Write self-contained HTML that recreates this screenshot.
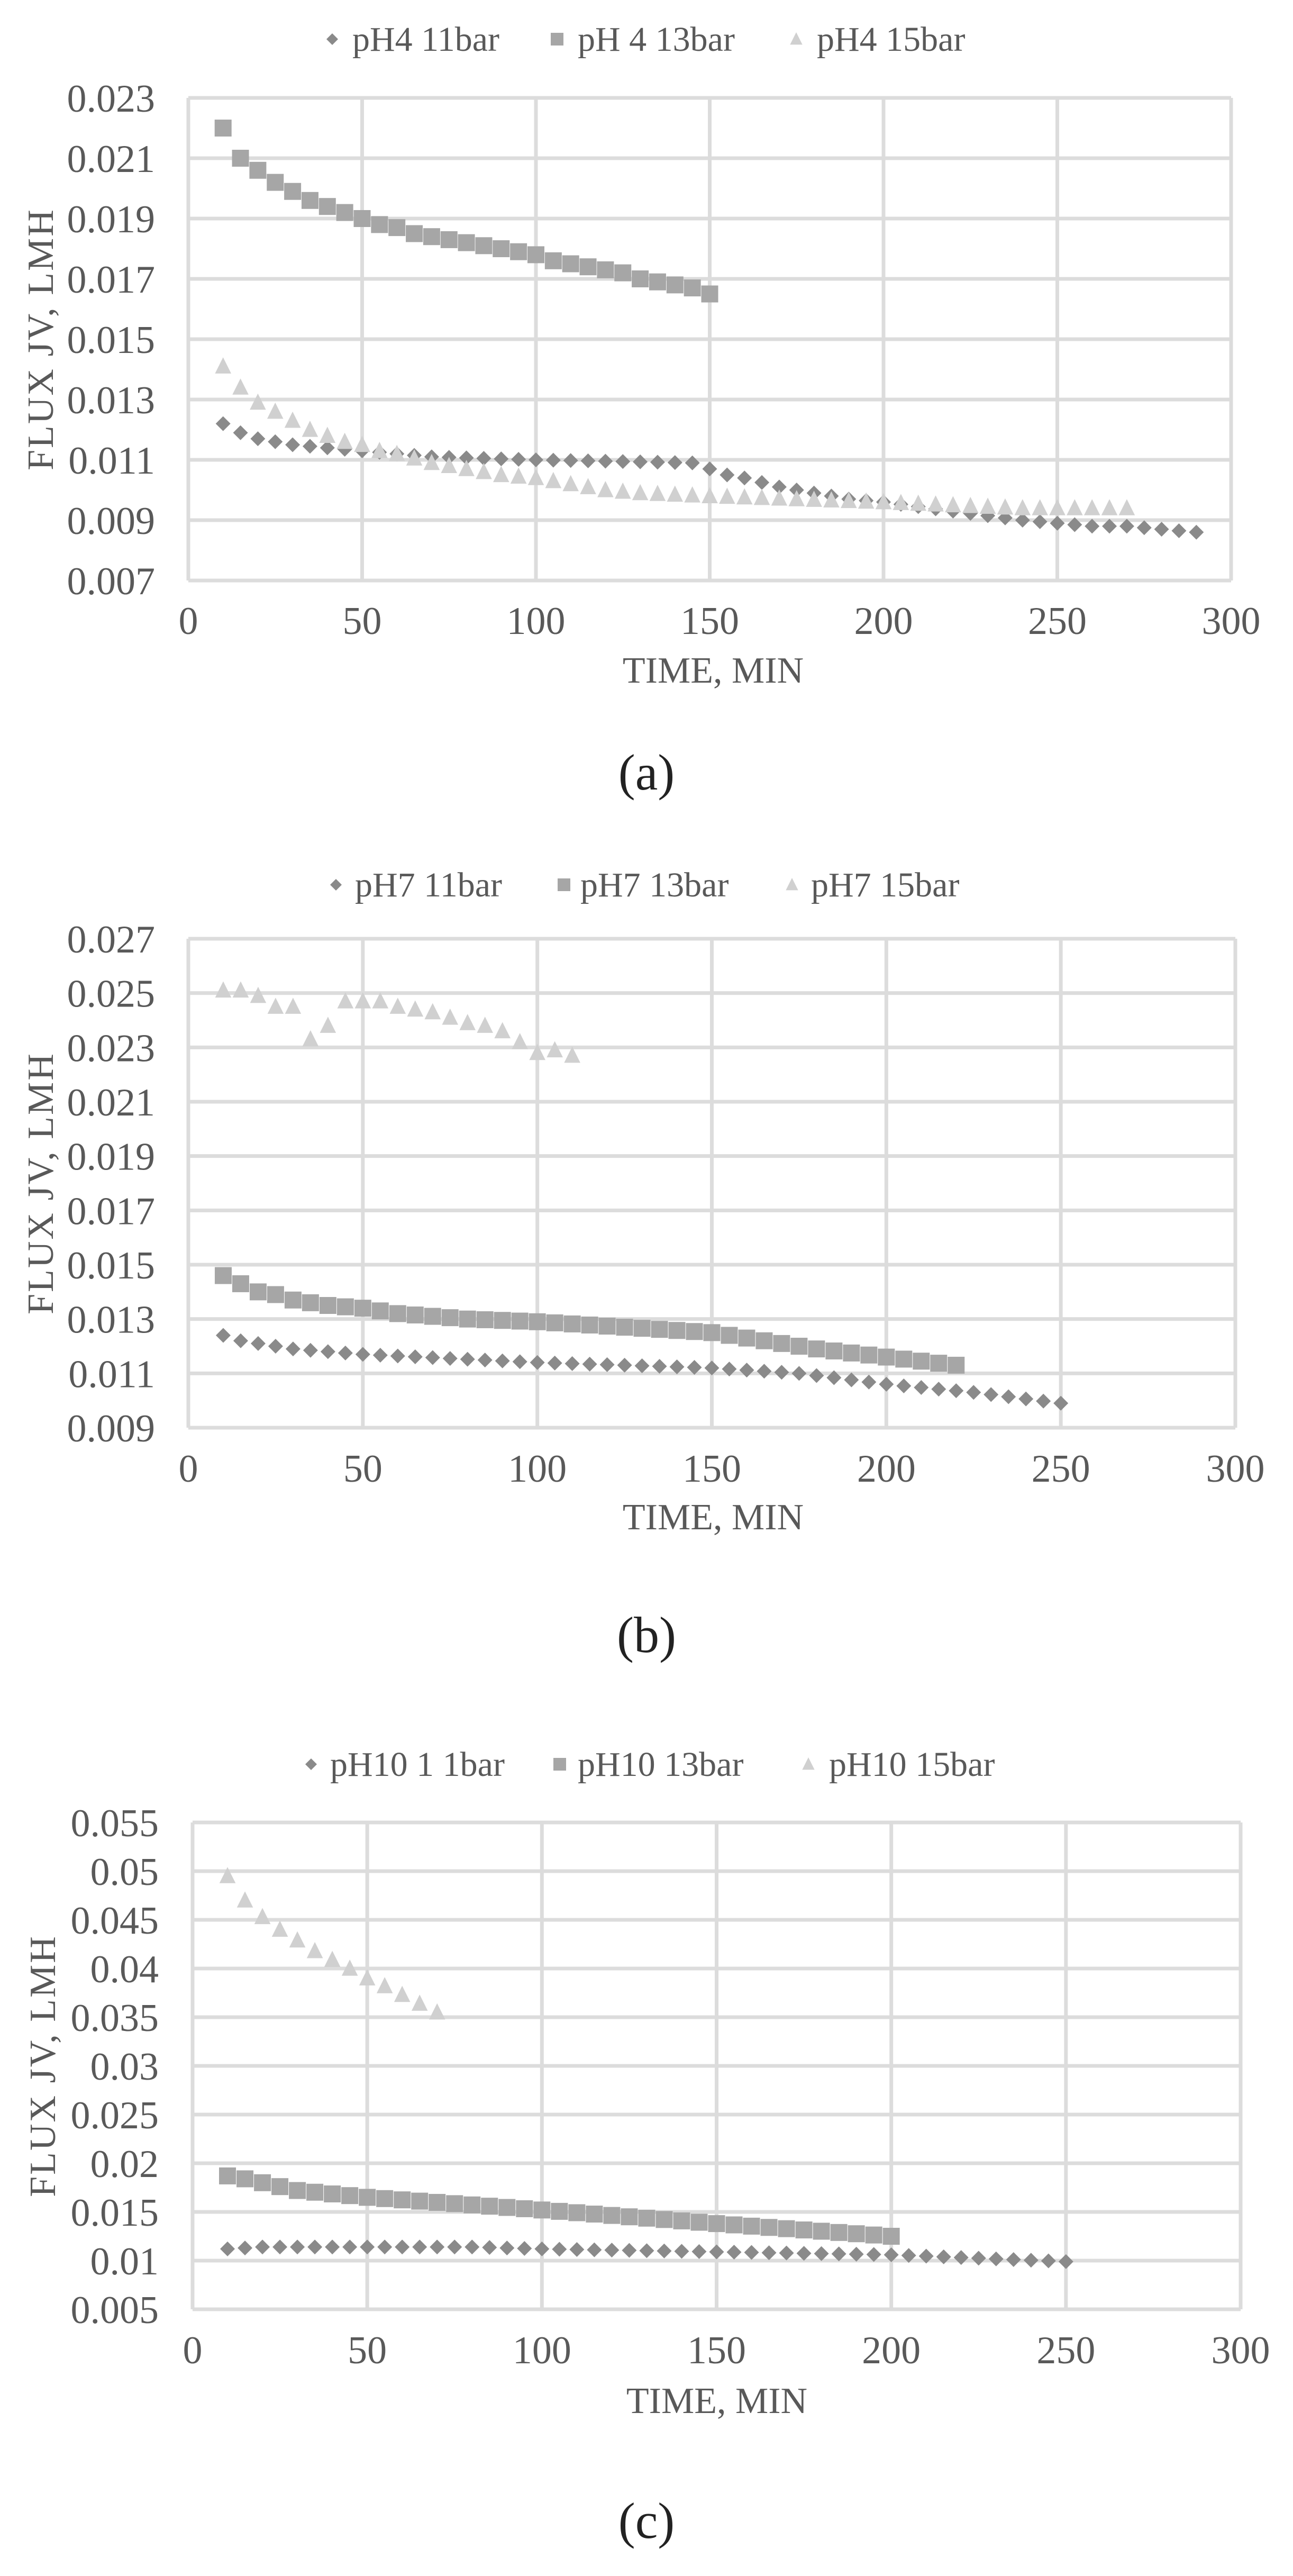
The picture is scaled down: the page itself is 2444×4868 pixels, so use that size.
<!DOCTYPE html>
<html><head><meta charset="utf-8"><style>
html,body{margin:0;padding:0;background:#fff;}
svg{display:block;}
text{font-family:"Liberation Serif",serif;fill:#595959;}
</style></head><body>
<svg id="s" width="2444" height="4868" xmlns="http://www.w3.org/2000/svg">
<rect width="2444" height="4868" fill="#fff"/>
<g id="g"></g>
<!-- chart a texts -->
<text x="666" y="96" font-size="66">pH4 11bar</text>
<text x="1092" y="96" font-size="66">pH 4 13bar</text>
<text x="1544" y="96" font-size="66">pH4 15bar</text>
<text x="1348" y="1290" font-size="70" text-anchor="middle">TIME, MIN</text>
<text transform="translate(100,641) rotate(-90)" font-size="70" text-anchor="middle" letter-spacing="3">FLUX JV, LMH</text>
<text x="1222" y="1492" font-size="96" text-anchor="middle" style="fill:#222">(a)</text>
<!-- chart b texts -->
<text x="671" y="1694" font-size="66">pH7 11bar</text>
<text x="1097" y="1694" font-size="66">pH7 13bar</text>
<text x="1533" y="1694" font-size="66">pH7 15bar</text>
<text x="1348" y="2890" font-size="70" text-anchor="middle">TIME, MIN</text>
<text transform="translate(100,2236) rotate(-90)" font-size="70" text-anchor="middle" letter-spacing="3">FLUX JV, LMH</text>
<text x="1222" y="3122" font-size="96" text-anchor="middle" style="fill:#222">(b)</text>
<!-- chart c texts -->
<text x="624" y="3356" font-size="66">pH10 1 1bar</text>
<text x="1092" y="3356" font-size="66">pH10 13bar</text>
<text x="1567" y="3356" font-size="66">pH10 15bar</text>
<text x="1355" y="4560" font-size="70" text-anchor="middle">TIME, MIN</text>
<text transform="translate(104,3904) rotate(-90)" font-size="70" text-anchor="middle" letter-spacing="3">FLUX JV, LMH</text>
<text x="1222" y="4796" font-size="96" text-anchor="middle" style="fill:#222">(c)</text>
</svg>
<script>
var NS="http://www.w3.org/2000/svg",G=document.getElementById('g');
function el(t,a,txt){var e=document.createElementNS(NS,t);for(var k in a)e.setAttribute(k,a[k]);if(txt!=null)e.textContent=txt;G.appendChild(e);return e;}
var C1="#8a8a8a",C2="#a6a6a6",C3="#d0d0d0";
function diamond(x,y,r,c){el('polygon',{points:(x)+','+(y-r)+' '+(x+r)+','+y+' '+x+','+(y+r)+' '+(x-r)+','+y,fill:c});}
function square(x,y,r,c){el('rect',{x:x-r,y:y-r,width:2*r,height:2*r,fill:c});}
function tri(x,y,r,c){el('polygon',{points:x+','+(y-r)+' '+(x+r*0.9)+','+(y+r*0.8)+' '+(x-r*0.9)+','+(y+r*0.8),fill:c});}
function interp(kp,x){for(var i=0;i<kp.length-1;i++){if(x>=kp[i][0]&&x<=kp[i+1][0]){var t=(x-kp[i][0])/(kp[i+1][0]-kp[i][0]);return kp[i][1]+t*(kp[i+1][1]-kp[i][1]);}}return kp[kp.length-1][1];}
function chart(o){
  var L=o.L,R=o.R,T=o.T,B=o.B;
  function X(v){return L+(v/300)*(R-L);} function Y(v){return B-(v-o.ymin)/(o.ymax-o.ymin)*(B-T);}
  var n=Math.round((o.ymax-o.ymin)/o.step);
  for(var i=0;i<=n;i++){var v=o.ymin+i*o.step,y=Y(v);
    el('line',{x1:L,x2:R,y1:y,y2:y,stroke:"#dcdcdc","stroke-width":7});
    el('text',{x:o.lx,y:y+26,"font-size":74,"text-anchor":"end"},o.fmt(v));}
  for(var m=0;m<=300;m+=50){var x=X(m);el('line',{x1:x,x2:x,y1:T,y2:B,stroke:"#dcdcdc","stroke-width":7});
    el('text',{x:x,y:o.ty,"font-size":74,"text-anchor":"middle"},String(m));}
  o.series.forEach(function(s){for(var t=s.a;t<=s.b+0.01;t+=5){var v=s.pts?s.pts[(t-s.a)/5]:interp(s.kp,t);s.f(X(t),Y(v),s.r,s.c);}});
  diamond(o.lg[0],o.ly,11,C1);square(o.lg[1],o.ly,12,C2);tri(o.lg[2],o.ly,13,C3);
}
function f3(v){return v.toFixed(3);}
function fc(v){var s=v.toFixed(3);if(s[4]==='0')s=s.slice(0,4);return s;}
chart({L:356,R:2327,T:185,B:1097,ymin:0.007,ymax:0.023,step:0.002,lx:293,ty:1198,fmt:f3,ly:74,lg:[628,1053,1505],
series:[
{a:10,b:290,f:diamond,r:14,c:C1,kp:[[10,.0122],[15,.0119],[20,.0117],[25,.0116],[30,.0115],[40,.0114],[50,.0113],[60,.0112],[70,.0111],[100,.0110],[145,.0109],[150,.0107],[155,.0105],[160,.0104],[170,.0101],[180,.0099],[190,.0097],[200,.0096],[220,.0093],[240,.0090],[260,.0088],[270,.0088],[290,.0086]]},
{a:10,b:270,f:tri,r:17,c:C3,kp:[[10,.0141],[15,.0134],[20,.0129],[25,.0126],[30,.0123],[35,.0120],[40,.0118],[45,.0116],[50,.0115],[55,.0113],[60,.0112],[70,.0109],[80,.0107],[90,.0105],[100,.0104],[110,.0102],[120,.0100],[130,.0099],[150,.0098],[200,.0096],[240,.0094],[270,.0094]]},
{a:10,b:150,f:square,r:16,c:C2,pts:[.022,.0210,.0206,.0202,.0199,.0196,.0194,.0192,.0190,.0188,.0187,.0185,.0184,.0183,.0182,.0181,.0180,.0179,.0178,.0176,.0175,.0174,.0173,.0172,.0170,.0169,.0168,.0167,.0165]}
]});
chart({L:356,R:2335,T:1774,B:2698,ymin:0.009,ymax:0.027,step:0.002,lx:293,ty:2800,fmt:f3,ly:1672,lg:[635,1066,1497],
series:[
{a:10,b:250,f:diamond,r:14,c:C1,kp:[[10,.0124],[15,.0122],[20,.0121],[25,.0120],[30,.0119],[50,.0117],[100,.0114],[150,.0112],[175,.0110],[200,.0106],[225,.0103],[250,.0099]]},
{a:10,b:220,f:square,r:16,c:C2,kp:[[10,.0146],[15,.0143],[20,.0140],[25,.0139],[30,.0137],[35,.0136],[40,.0135],[50,.0134],[60,.0132],[70,.0131],[80,.0130],[100,.0129],[150,.0125],[160,.0123],[180,.0119],[200,.0116],[220,.0113]]},
{a:10,b:110,f:tri,r:17,c:C3,pts:[.0251,.0251,.0249,.0245,.0245,.0233,.0238,.0247,.0247,.0247,.0245,.0244,.0243,.0241,.0239,.0238,.0236,.0232,.0228,.0229,.0227]}
]});
chart({L:364,R:2345,T:3444,B:4364,ymin:0.005,ymax:0.055,step:0.005,lx:300,ty:4466,fmt:fc,ly:3334,lg:[588,1058,1528],
series:[
{a:10,b:250,f:diamond,r:14,c:C1,kp:[[10,.0112],[15,.0113],[20,.0114],[80,.0114],[100,.0112],[150,.0109],[200,.0106],[250,.0099]]},
{a:10,b:200,f:square,r:16,c:C2,kp:[[10,.0187],[15,.0184],[20,.0180],[25,.0176],[30,.0172],[50,.0165],[100,.0152],[150,.0138],[200,.0125]]},
{a:10,b:70,f:tri,r:17,c:C3,pts:[.0495,.047,.0453,.0440,.0429,.0418,.0409,.0400,.0390,.0382,.0373,.0364,.0355]}
]});
</script>
</body></html>
